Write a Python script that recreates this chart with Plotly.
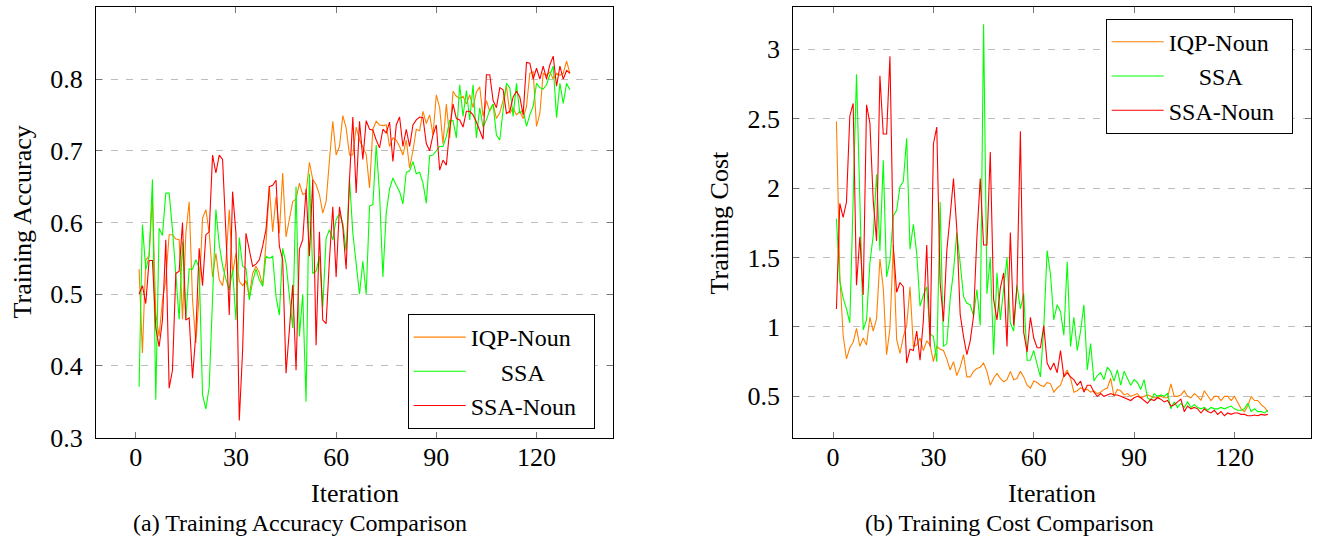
import plotly.graph_objects as go

iterations = list(range(1, 131))

acc_iqp_noun = [
    .535, .418, .548, .553, .636, .473, .441, .492, .520, .583,
    .583, .577, .576, .465, .585, .629, .492, .432, .500, .606,
    .618, .585, .524, .557, .520, .512, .545, .618, .529, .557,
    .518, .512, .519, .497, .529, .539, .530, .512, .571, .650,
    .587, .636, .585, .669, .580, .604, .629, .633, .655, .639,
    .641, .684, .660, .653, .639, .613, .629, .687, .741, .694,
    .706, .749, .732, .694, .694, .733, .715, .705, .695, .648,
    .730, .741, .736, .735, .736, .706, .718, .715, .706, .694,
    .715, .676, .700, .730, .728, .755, .738, .750, .722, .778,
    .760, .710, .765, .718, .783, .776, .773, .776, .765, .778,
    .760, .782, .789, .748, .770, .755, .765, .745, .753, .770,
    .790, .752, .760, .750, .755, .745, .762, .808, .810, .734,
    .752, .808, .805, .810, .800, .808, .805, .808, .825, .808,
]
acc_ssa = [
    .371, .597, .534, .553, .660, .353, .592, .582, .641, .641,
    .590, .525, .465, .573, .466, .535, .535, .548, .537, .360,
    .340, .371, .490, .618, .569, .540, .521, .506, .534, .464,
    .579, .539, .536, .492, .518, .535, .520, .511, .553, .550,
    .553, .497, .471, .564, .543, .495, .453, .650, .441, .500,
    .350, .668, .529, .532, .553, .482, .578, .590, .576, .604,
    .612, .599, .560, .661, .585, .543, .500, .546, .500, .623,
    .625, .708, .640, .524, .613, .647, .662, .652, .643, .626,
    .670, .672, .685, .668, .670, .655, .627, .693, .694, .700,
    .706, .706, .720, .742, .742, .718, .792, .748, .784, .743,
    .792, .718, .760, .733, .743, .757, .765, .722, .715, .757,
    .794, .788, .748, .794, .752, .757, .734, .750, .762, .794,
    .788, .786, .792, .806, .818, .746, .794, .766, .794, .785,
]
acc_ssa_noun = [
    .500, .512, .487, .547, .547, .453, .427, .464, .576, .369,
    .394, .529, .532, .600, .464, .467, .383, .446, .564, .512,
    .583, .587, .694, .669, .694, .688, .585, .471, .643, .585,
    .324, .422, .585, .564, .539, .542, .548, .567, .590, .650,
    .652, .659, .567, .548, .390, .450, .513, .394, .563, .576,
    .647, .553, .660, .429, .587, .464, .459, .548, .622, .524,
    .622, .594, .535, .660, .747, .641, .741, .688, .742, .730,
    .729, .715, .704, .730, .725, .740, .685, .736, .747, .706,
    .730, .706, .736, .743, .747, .746, .710, .700, .722, .736,
    .673, .687, .680, .730, .765, .745, .743, .733, .755, .755,
    .750, .740, .728, .716, .806, .806, .770, .760, .788, .785,
    .752, .755, .775, .783, .775, .750, .823, .822, .800, .815,
    .800, .818, .800, .820, .832, .790, .818, .800, .812, .808,
]

cost_iqp_noun = [
    2.48, 1.38, 0.94, 0.77, 0.85, 0.89, 0.99, 0.86, 0.92, 0.87,
    1.07, 0.97, 1.06, 1.49, 1.28, 0.80, 0.99, 1.59, 0.91, 0.81,
    0.93, 1.01, 1.29, 0.86, 0.87, 0.92, 0.83, 0.90, 0.87, 0.75,
    0.86, 0.84, 0.83, 0.77, 0.69, 0.75, 0.65, 0.71, 0.80, 0.64,
    0.64, 0.68, 0.70, 0.71, 0.74, 0.68, 0.58, 0.63, 0.665, 0.63,
    0.605, 0.62, 0.68, 0.62, 0.63, 0.68, 0.64, 0.58, 0.56, 0.61,
    0.60, 0.58, 0.57, 0.60, 0.59, 0.53, 0.56, 0.58, 0.65, 0.69,
    0.63, 0.53, 0.54, 0.56, 0.55, 0.55, 0.53, 0.54, 0.52, 0.53,
    0.55, 0.56, 0.63, 0.50, 0.55, 0.54, 0.51, 0.52, 0.50, 0.51,
    0.52, 0.49, 0.50, 0.51, 0.50, 0.49, 0.49, 0.50, 0.49, 0.49,
    0.59, 0.50, 0.50, 0.51, 0.54, 0.50, 0.49, 0.52, 0.50, 0.47,
    0.54, 0.50, 0.47, 0.50, 0.50, 0.47, 0.50, 0.50, 0.47, 0.50,
    0.45, 0.41, 0.39, 0.43, 0.50, 0.47, 0.47, 0.44, 0.42, 0.39,
]
cost_ssa = [
    1.78, 1.33, 1.21, 1.13, 1.03, 1.90, 2.82, 1.92, 0.98, 1.05,
    1.46, 1.66, 2.10, 1.55, 2.20, 1.36, 1.48, 1.80, 1.84, 2.01,
    2.05, 2.36, 1.56, 1.74, 1.53, 1.15, 1.23, 1.29, 0.95, 0.93,
    0.75, 1.90, 0.86, 0.88, 1.20, 1.40, 1.68, 1.46, 1.22, 1.17,
    1.16, 1.08, 1.27, 1.01, 3.18, 1.24, 1.50, 0.80, 1.39, 1.05,
    1.26, 1.50, 1.03, 0.97, 1.30, 1.13, 1.24, 0.76, 0.76, 0.83,
    0.73, 0.64, 1.00, 1.55, 1.38, 1.05, 1.16, 1.11, 0.94, 1.47,
    0.86, 1.07, 0.83, 0.97, 1.16, 0.69, 0.88, 0.61, 0.65, 0.67,
    0.62, 0.71, 0.68, 0.61, 0.69, 0.58, 0.68, 0.63, 0.58, 0.62,
    0.60, 0.55, 0.62, 0.49, 0.47, 0.52, 0.50, 0.51, 0.50, 0.52,
    0.41, 0.46, 0.42, 0.45, 0.42, 0.46, 0.42, 0.44, 0.42, 0.41,
    0.42, 0.40, 0.42, 0.41, 0.41, 0.42, 0.41, 0.42, 0.43, 0.41,
    0.40, 0.40, 0.41, 0.45, 0.39, 0.41, 0.39, 0.39, 0.38, 0.40,
]
cost_ssa_noun = [
    1.13, 1.89, 1.79, 1.90, 2.52, 2.61, 1.30, 1.65, 1.23, 2.60,
    2.47, 1.91, 1.62, 2.81, 2.39, 2.39, 2.95, 1.58, 1.25, 1.32,
    1.29, 0.74, 0.84, 0.83, 0.97, 0.76, 1.05, 1.59, 0.86, 2.32,
    2.44, 1.32, 1.04, 1.55, 1.80, 2.07, 1.70, 1.09, 0.93, 0.80,
    0.90, 1.08, 1.65, 2.07, 1.59, 1.59, 2.26, 1.20, 1.05, 1.28,
    1.39, 0.86, 1.68, 1.01, 1.30, 2.41, 0.96, 0.82, 1.07, 0.92,
    0.85, 0.85, 1.01, 0.74, 0.69, 0.74, 0.67, 0.83, 0.64, 0.67,
    0.64, 0.62, 0.58, 0.61, 0.53, 0.58, 0.58, 0.53, 0.50, 0.52,
    0.50, 0.51, 0.52, 0.51, 0.51, 0.50, 0.49, 0.48, 0.47, 0.49,
    0.50, 0.49, 0.47, 0.45, 0.48, 0.47, 0.49, 0.48, 0.46, 0.47,
    0.43, 0.44, 0.46, 0.48, 0.39, 0.43, 0.41, 0.42, 0.41, 0.38,
    0.41, 0.39, 0.38, 0.40, 0.37, 0.39, 0.36, 0.38, 0.37, 0.38,
    0.38, 0.37, 0.37, 0.36, 0.36, 0.365, 0.36, 0.37, 0.365, 0.37,
]

series_names = ["IQP-Noun", "SSA", "SSA-Noun"]
series_colors = ["#FF8000", "#00FF00", "#FF0000"]
x_ticks = [0, 30, 60, 90, 120]
acc_ticks = [0.3, 0.4, 0.5, 0.6, 0.7, 0.8]
acc_tick_labels = ["0.3", "0.4", "0.5", "0.6", "0.7", "0.8"]
cost_ticks = [0.5, 1, 1.5, 2, 2.5, 3]
cost_tick_labels = ["0.5", "1", "1.5", "2", "2.5", "3"]

W, H = 1318, 538
FONT = "Liberation Serif, Times New Roman, serif"

fig = go.Figure()

# legend labels: same names; padded with no-break spaces so the text column looks centred
NB = "\u00a0"
legend_labels = ["IQP-Noun" + NB * 2, NB * 5 + "SSA", "SSA-Noun" + NB * 2]
for vals, color, lab in zip([acc_iqp_noun, acc_ssa, acc_ssa_noun], series_colors, legend_labels):
    fig.add_trace(go.Scatter(x=iterations, y=vals, mode="lines", name=lab,
                             line=dict(color=color, width=1.1),
                             xaxis="x", yaxis="y", legend="legend"))
for vals, color, lab in zip([cost_iqp_noun, cost_ssa, cost_ssa_noun], series_colors, legend_labels):
    fig.add_trace(go.Scatter(x=iterations, y=vals, mode="lines", name=lab,
                             line=dict(color=color, width=1.1),
                             xaxis="x2", yaxis="y2", legend="legend2"))

def px_x(p):
    return p / W

def px_y(p):
    return 1 - p / H

axis_common = dict(
    showline=True, linecolor="#000000", linewidth=1, mirror="allticks",
    ticks="inside", ticklen=6, tickcolor="#777777", tickwidth=1,
    tickfont=dict(family=FONT, size=26, color="#000000"),
    zeroline=False, automargin=False,
)

x_range = [-11.9, 142.9]
fig.update_layout(
    template="none",
    width=W, height=H, autosize=False,
    margin=dict(l=0, r=0, t=0, b=0, pad=0, autoexpand=False),
    paper_bgcolor="white", plot_bgcolor="white",
    font=dict(family=FONT, color="#000000"),
    xaxis=dict(domain=[px_x(96), px_x(613)], anchor="y", range=x_range,
               tickmode="array", tickvals=x_ticks, showgrid=False,
               ticklabelstandoff=-4, **axis_common),
    yaxis=dict(domain=[px_y(437.7), px_y(7.3)], anchor="x", range=[0.3, 0.9],
               tickmode="array", tickvals=acc_ticks, ticktext=acc_tick_labels,
               showgrid=True, gridcolor="#BDBDBD", gridwidth=1, griddash="7px,8px",
               ticklabelstandoff=7, **axis_common),
    xaxis2=dict(domain=[px_x(793.3), px_x(1311)], anchor="y2", range=x_range,
                tickmode="array", tickvals=x_ticks, showgrid=False,
                ticklabelstandoff=-4, **axis_common),
    yaxis2=dict(domain=[px_y(437.7), px_y(7.3)], anchor="x2", range=[0.202, 3.303],
                tickmode="array", tickvals=cost_ticks, ticktext=cost_tick_labels,
                showgrid=True, gridcolor="#BDBDBD", gridwidth=1, griddash="7px,8px",
                ticklabelstandoff=7, **axis_common),
    legend=dict(x=px_x(407.7), y=px_y(314), xanchor="left", yanchor="top",
                bgcolor="white", bordercolor="#000000", borderwidth=1,
                itemwidth=52,
                font=dict(family=FONT, size=24, color="#000000")),
    legend2=dict(x=px_x(1105.7), y=px_y(18.7), xanchor="left", yanchor="top",
                 bgcolor="white", bordercolor="#000000", borderwidth=1,
                 itemwidth=52,
                 font=dict(family=FONT, size=24, color="#000000")),
    showlegend=True,
)

annotations = [
    dict(text="Iteration", x=px_x(354.5), y=px_y(493), size=26, angle=0),
    dict(text="Iteration", x=px_x(1052), y=px_y(493), size=26, angle=0),
    dict(text="Training Accuracy", x=px_x(22), y=px_y(222.5), size=26, angle=-90),
    dict(text="Training Cost", x=px_x(719), y=px_y(222.5), size=26, angle=-90),
    dict(text="(a) Training Accuracy Comparison", x=px_x(300), y=px_y(523), size=24, angle=0),
    dict(text="(b) Training Cost Comparison", x=px_x(1009), y=px_y(523), size=24, angle=0),
]
for a in annotations:
    fig.add_annotation(text=a["text"], x=a["x"], y=a["y"], xref="paper", yref="paper",
                       xanchor="center", yanchor="middle", showarrow=False,
                       textangle=a["angle"],
                       font=dict(family=FONT, size=a["size"], color="#000000"))

fig.write_html("out.html",
               config={"displayModeBar": False},
               post_script="document.body.style.margin='0';document.body.style.overflow='hidden';")
